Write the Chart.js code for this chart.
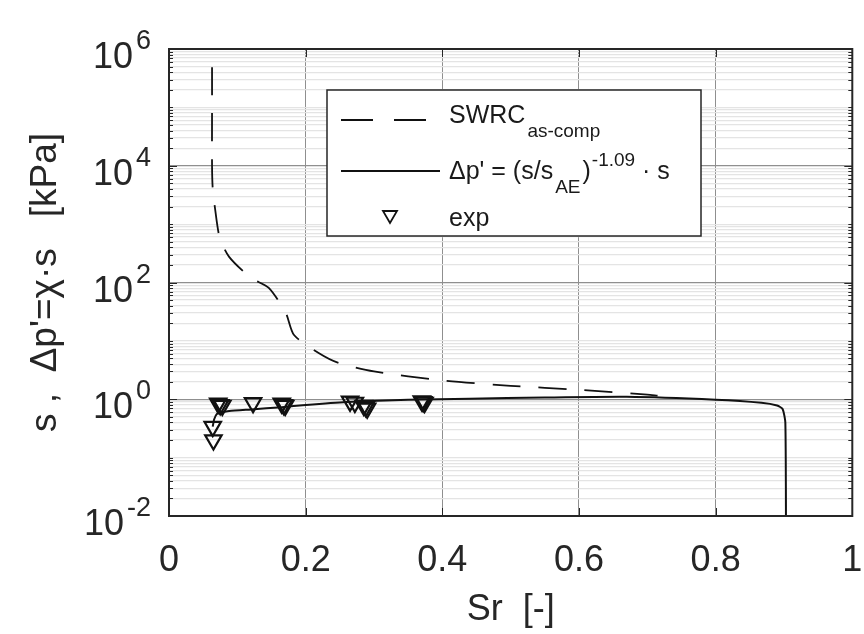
<!DOCTYPE html>
<html>
<head>
<meta charset="utf-8">
<script src="https://cdn.jsdelivr.net/npm/chart.js@4.4.0/dist/chart.umd.min.js"></script>
<style>
  html, body { margin: 0; padding: 0; background: #fff; }
  #wrap { width: 864px; height: 634px; }
</style>
</head>
<body>
<div id="wrap"><canvas id="chart" width="864" height="634"></canvas></div>
<script>
// SWRC (as-compacted), dashed
const swrcSr = [0.063, 0.063, 0.063, 0.064, 0.067, 0.074, 0.088, 0.12, 0.146, 0.171, 0.183, 0.219, 0.248, 0.3, 0.4, 0.5, 0.6, 0.7, 0.715];
const swrcS  = [3e6, 1e5, 1e4, 4000, 2000, 600, 275, 120, 81, 30, 12.6, 6.2, 4.2, 3.0, 2.1, 1.7, 1.45, 1.2, 1.15];

// effective stress curve, solid
const dpSr = [0.064, 0.066, 0.070, 0.078, 0.088, 0.12, 0.165, 0.2, 0.26, 0.35, 0.44, 0.55, 0.67, 0.8, 0.867, 0.89, 0.898, 0.902, 0.903];
const dpP  = [0.34, 0.45, 0.56, 0.60, 0.63, 0.67, 0.73, 0.80, 0.90, 0.98, 1.02, 1.07, 1.10, 0.98, 0.87, 0.78, 0.68, 0.40, 0.005];

// experimental points
const expSr = [0.064, 0.065, 0.072, 0.075, 0.078, 0.123, 0.165, 0.168, 0.170, 0.265, 0.272, 0.285, 0.288, 0.290, 0.370, 0.372, 0.374];
const expS  = [0.34, 0.20, 0.85, 0.80, 0.78, 0.87, 0.85, 0.80, 0.78, 0.92, 0.88, 0.78, 0.74, 0.70, 0.93, 0.90, 0.88];

// axes
const xTicks = [0, 0.2, 0.4, 0.6, 0.8, 1];
const xTickLabels = ['0', '0.2', '0.4', '0.6', '0.8', '1'];
const yLabelValues = [1e6, 1e4, 1e2, 1, 1e-2];
const yLabelExps = ['6', '4', '2', '0', '-2'];
const xTitle = 'Sr  [-]';
const yTitle = "s ,  \u0394p'=\u03c7\u00b7s   [kPa]";
const legendLabels = ['SWRC', 'as-comp', "\u0394p' = (s/s", 'AE', ')', '-1.09', ' \u00b7 s', 'exp'];

const FONT = '"Liberation Sans", Arial, sans-serif';
const TEXT = '#262626';

// all minor/major positions of the log axis
const yTickValues = [];
for (let e = -2; e < 6; e++) {
  for (let k = 1; k <= 9; k++) {
    yTickValues.push(Number((k * Math.pow(10, e)).toPrecision(3)));
  }
}
yTickValues.push(1e6);

function isEvenDecade(v) {
  const l = Math.log10(v);
  return Math.abs(l - Math.round(l)) < 1e-9 && Math.round(l) % 2 === 0;
}

function drawRich(ctx, parts, x, y) {
  parts.forEach(p => {
    ctx.font = p.size + 'px ' + FONT;
    ctx.fillText(p.t, x, y + p.dy);
    x += ctx.measureText(p.t).width + (p.gap || 0);
  });
}

const decorPlugin = {
  id: 'decor',
  afterDraw(chart) {
    const ctx = chart.ctx;
    const ca = chart.chartArea;
    const ys = chart.scales.y;
    const xs = chart.scales.x;
    ctx.save();

    // inner tick marks
    ctx.strokeStyle = TEXT;
    ctx.lineWidth = 1;
    yTickValues.forEach(v => {
      const py = Math.round(ys.getPixelForValue(v)) + 0.5;
      const len = isEvenDecade(v) ? 8 : 4;
      ctx.beginPath();
      ctx.moveTo(ca.left, py); ctx.lineTo(ca.left + len, py);
      ctx.moveTo(ca.right, py); ctx.lineTo(ca.right - len, py);
      ctx.stroke();
    });
    xTicks.forEach(v => {
      const px = Math.round(xs.getPixelForValue(v)) + 0.5;
      ctx.beginPath();
      ctx.moveTo(px, ca.bottom); ctx.lineTo(px, ca.bottom - 8);
      ctx.moveTo(px, ca.top); ctx.lineTo(px, ca.top + 8);
      ctx.stroke();
    });

    // frame
    ctx.lineWidth = 2;
    ctx.strokeRect(ca.left, ca.top, ca.right - ca.left, ca.bottom - ca.top);

    // y tick labels 10^n
    ctx.fillStyle = TEXT;
    ctx.textBaseline = 'alphabetic';
    ctx.textAlign = 'left';
    yLabelValues.forEach((v, i) => {
      const py = ys.getPixelForValue(v);
      ctx.font = '27px ' + FONT;
      const ew = ctx.measureText(yLabelExps[i]).width;
      ctx.font = '36px ' + FONT;
      const bw = ctx.measureText('10').width;
      const right = 151;
      ctx.fillText('10', right - ew - 3 - bw, py + 19);
      ctx.font = '27px ' + FONT;
      ctx.fillText(yLabelExps[i], right - ew, py);
    });

    // legend box
    const lx = 327, ly = 90, lw = 374, lh = 146;
    ctx.fillStyle = '#fff';
    ctx.fillRect(lx, ly, lw, lh);
    ctx.strokeStyle = TEXT;
    ctx.lineWidth = 1.5;
    ctx.strokeRect(lx, ly, lw, lh);

    ctx.strokeStyle = '#111';
    ctx.lineWidth = 1.8;
    ctx.setLineDash([32, 21]);
    ctx.beginPath(); ctx.moveTo(341, 120); ctx.lineTo(427, 120); ctx.stroke();
    ctx.setLineDash([]);
    ctx.beginPath(); ctx.moveTo(341, 171); ctx.lineTo(440, 171); ctx.stroke();
    // small open triangle
    ctx.lineWidth = 1.8;
    ctx.beginPath();
    ctx.moveTo(383, 211); ctx.lineTo(397, 211); ctx.lineTo(390, 223); ctx.closePath();
    ctx.stroke();

    ctx.fillStyle = '#1a1a1a';
    drawRich(ctx, [
      { t: legendLabels[0], size: 25, dy: 0, gap: 2 },
      { t: legendLabels[1], size: 19, dy: 14 }
    ], 449, 123);
    drawRich(ctx, [
      { t: legendLabels[2], size: 25, dy: 0, gap: 2 },
      { t: legendLabels[3], size: 19, dy: 14, gap: 2 },
      { t: legendLabels[4], size: 25, dy: 0, gap: 1 },
      { t: legendLabels[5], size: 19, dy: -13 },
      { t: legendLabels[6], size: 25, dy: 0 }
    ], 449, 179);
    drawRich(ctx, [{ t: legendLabels[7], size: 25, dy: 0 }], 449, 226);

    ctx.restore();
  }
};

const toPoints = (xa, ya) => xa.map((x, i) => ({ x: x, y: ya[i] }));

new Chart(document.getElementById('chart'), {
  type: 'line',
  data: {
    datasets: [
      {
        label: 'exp',
        data: toPoints(expSr, expS),
        showLine: false,
        pointStyle: 'triangle',
        rotation: 180,
        pointRadius: 9.5,
        pointBorderWidth: 2.2,
        pointBorderColor: '#111',
        pointBackgroundColor: 'rgba(0,0,0,0)'
      },
      {
        label: 'dp',
        data: toPoints(dpSr, dpP),
        borderColor: '#111',
        borderWidth: 2,
        pointRadius: 0,
        tension: 0.2,
        fill: false
      },
      {
        label: 'SWRC',
        data: toPoints(swrcSr, swrcS),
        borderColor: '#111',
        borderWidth: 1.8,
        borderDash: [28, 18],
        pointRadius: 0,
        tension: 0.25,
        fill: false
      }
    ]
  },
  options: {
    responsive: false,
    animation: false,
    events: [],
    layout: { padding: { top: 49, right: 8, left: 0, bottom: 0 } },
    plugins: { legend: { display: false }, tooltip: { enabled: false } },
    scales: {
      x: {
        type: 'linear',
        min: 0,
        max: 1,
        afterBuildTicks: scale => { scale.ticks = xTicks.map(v => ({ value: v })); },
        afterFit: scale => { scale.height = 118; scale.paddingLeft = 0; scale.paddingRight = 0; },
        ticks: {
          autoSkip: false,
          maxRotation: 0,
          padding: 23,
          color: TEXT,
          font: { family: FONT, size: 36 },
          callback: (v, i) => xTickLabels[i]
        },
        grid: {
          drawTicks: false,
          color: c => (c.tick && (c.tick.value === 0 || c.tick.value === 1)) ? 'rgba(0,0,0,0)' : '#8f8f8f',
          lineWidth: 1
        },
        border: { display: false },
        title: {
          display: true,
          text: xTitle,
          color: TEXT,
          font: { family: FONT, size: 36 },
          padding: { top: 0, bottom: 2 }
        }
      },
      y: {
        type: 'logarithmic',
        min: 0.01,
        max: 1e6,
        afterBuildTicks: scale => { scale.ticks = yTickValues.map(v => ({ value: v })); },
        afterFit: scale => { scale.width = 169; scale.paddingTop = 0; scale.paddingBottom = 0; },
        ticks: { autoSkip: false, callback: () => '' },
        grid: {
          drawTicks: false,
          color: c => (c.tick && isEvenDecade(c.tick.value)) ? '#8f8f8f' : '#e4e4e4',
          lineWidth: 1.2
        },
        border: { display: false },
        title: {
          display: true,
          text: yTitle,
          color: TEXT,
          font: { family: FONT, size: 37 },
          padding: { top: 24, bottom: 0 }
        }
      }
    }
  },
  plugins: [decorPlugin]
});
</script>
</body>
</html>
